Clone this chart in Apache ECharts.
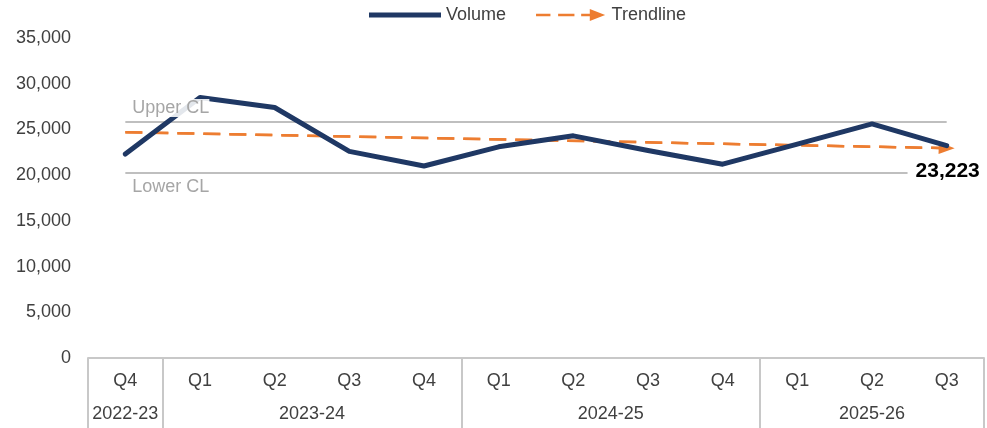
<!DOCTYPE html>
<html>
<head>
<meta charset="utf-8">
<script src="https://cdn.jsdelivr.net/npm/echarts@6/dist/echarts.min.js"></script>
<style>
  html, body { margin: 0; padding: 0; background: #fff; }
  #chart { width: 987px; height: 428px; }
</style>
</head>
<body>
<div id="chart"></div>
<script>
// quarters and the fiscal year each one belongs to
const quarters = ['Q4', 'Q1', 'Q2', 'Q3', 'Q4', 'Q1', 'Q2', 'Q3', 'Q4', 'Q1', 'Q2', 'Q3']
const years = ['2022-23', '2023-24', '2024-25', '2025-26']
const yearSpans = [1, 4, 4, 3]

const volume = [22300, 28500, 27400, 22600, 21000, 23100, 24300, 22700, 21200, 23400, 25600, 23223]
const trendline = [24700, 22950] // start and end of the fitted line
const upperCL = 25800
const lowerCL = 20250

const yMax = 35000
const yStep = 5000

const NAVY = '#1F3864'
const ORANGE = '#ED7D31'
const GREY_LINE = '#BFBFBF'
const FONT = "'Liberation Sans', Arial, sans-serif"

// unique category keys, label shows only the quarter
const categories = []
years.forEach((y, yi) => {
  let start = yearSpans.slice(0, yi).reduce((a, b) => a + b, 0)
  for (let k = 0; k < yearSpans[yi]; k++) categories.push(quarters[start + k] + ' ' + y)
})

// half-step axis used for the fiscal year row and its separators
const halfLabels = new Array(categories.length * 2 + 1).fill('')
const boundaries = new Set([0])
let cum = 0
years.forEach((y, yi) => {
  halfLabels[cum * 2 + yearSpans[yi]] = y
  cum += yearSpans[yi]
  boundaries.add(cum * 2)
})

const last = volume.length - 1
const fmt = v => Number(v).toLocaleString('en-US')

const chart = echarts.init(document.getElementById('chart'))
chart.setOption({
  animation: false,
  textStyle: { fontFamily: FONT },
  legend: {
    top: 1, left: 364,
    itemWidth: 72, itemHeight: 12, itemGap: 30,
    textStyle: { fontSize: 18, color: '#404040', fontFamily: FONT },
    data: [
      {
        name: 'Volume',
        icon: 'path://M0,3.5 L72,3.5 L72,8.5 L0,8.5 Z',
        itemStyle: { color: NAVY }
      },
      {
        name: 'Trendline',
        icon: 'path://M0,5 L15,5 L15,7.5 L0,7.5 Z M23,5 L40,5 L40,7.5 L23,7.5 Z M47,5 L56,5 L56,7.5 L47,7.5 Z M56,0 L72,6.25 L56,12.5 Z',
        itemStyle: { color: ORANGE }
      }
    ]
  },
  grid: { left: 88, right: 2, top: 38, bottom: 70 },
  xAxis: [
    {
      type: 'category', data: categories, boundaryGap: true,
      axisLine: { show: true, lineStyle: { color: '#C8C8C8', width: 2 } },
      axisTick: { show: false },
      axisLabel: { interval: 0, margin: 14, fontSize: 18, color: '#404040', formatter: v => v.split(' ')[0] }
    },
    {
      type: 'category', data: halfLabels.map((l, i) => l || ('_' + i)), boundaryGap: false, position: 'bottom',
      axisLine: { show: false },
      axisTick: { show: true, length: 72, interval: i => boundaries.has(i), lineStyle: { color: '#C8C8C8', width: 2 } },
      axisLabel: { interval: 0, margin: 47, fontSize: 18, color: '#404040', formatter: v => v.startsWith('_') ? '' : v }
    }
  ],
  yAxis: {
    type: 'value', min: 0, max: yMax, interval: yStep,
    axisLine: { show: false }, axisTick: { show: false }, splitLine: { show: false },
    axisLabel: { fontSize: 18, color: '#404040', margin: 17, formatter: fmt }
  },
  series: [
    {
      // control limit lines (drawn underneath)
      name: 'CL', type: 'line', data: [], z: 1, silent: true,
      markLine: {
        z: 1,
        silent: true, symbol: ['none', 'none'], animation: false,
        lineStyle: { color: GREY_LINE, width: 2, type: 'solid' },
        label: { show: false },
        data: [
          [{ coord: [0, upperCL] }, { coord: [last, upperCL] }],
          [
            { coord: [0, lowerCL], label: { show: true, position: 'insideStartBottom', formatter: 'Lower CL', color: '#A6A6A6', fontSize: 18, distance: [7, 5] } },
            { coord: [last, lowerCL] }
          ]
        ]
      }
    },
    {
      name: 'Volume', type: 'line', z: 3,
      data: volume.map((v, i) => i === last ? {
        value: v,
        label: {
          show: true, position: 'bottom', distance: 14, formatter: p => fmt(p.value),
          fontSize: 21, fontWeight: 'bold', color: '#000', backgroundColor: '#fff', padding: [1, 6, 1, 8]
        }
      } : v),
      symbol: 'circle', symbolSize: 0.1, showSymbol: true,
      itemStyle: { color: NAVY },
      lineStyle: { color: NAVY, width: 5, cap: 'round', join: 'round' }
    },
    {
      name: 'Trendline', type: 'line', z: 2,
      data: [[0, trendline[0]], [last, trendline[1]]],
      symbol: 'none', showSymbol: false,
      itemStyle: { color: ORANGE },
      lineStyle: { color: ORANGE, width: 2.5, type: [17, 9] },
      markLine: {
        z: 2,
        silent: true, symbol: ['none', 'triangle'], symbolSize: [12, 16], animation: false,
        lineStyle: { color: ORANGE, width: 2.5, type: [17, 9] },
        label: { show: false },
        data: [[{ coord: [0, trendline[0]] }, { coord: [last, trendline[1]] }]]
      }
    },
    {
      // Upper CL label sits above the volume line with a soft white box
      name: 'CL label', type: 'line', data: [], z: 6, silent: true,
      markLine: {
        z: 6,
        silent: true, symbol: ['none', 'none'], animation: false,
        lineStyle: { color: 'rgba(255,255,255,0)', width: 1 },
        data: [[
          {
            coord: [0, upperCL],
            label: {
              show: true, position: 'insideStartTop', formatter: 'Upper CL', color: '#A6A6A6', fontSize: 18,
              backgroundColor: 'rgba(255,255,255,0.88)', distance: [7, 5]
            }
          },
          { coord: [last, upperCL] }
        ]]
      }
    }
  ]
})
</script>
</body>
</html>
